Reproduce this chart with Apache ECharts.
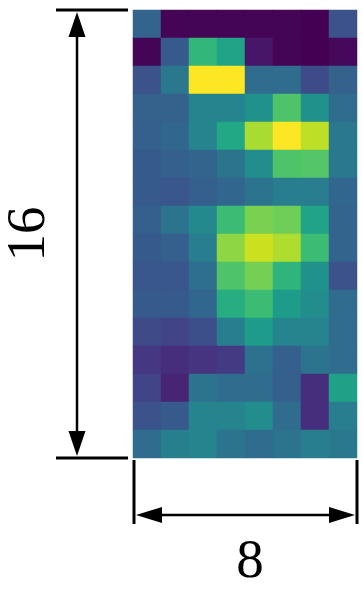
<!DOCTYPE html>
<html>
<head>
<meta charset="utf-8">
<script src="https://cdn.jsdelivr.net/npm/echarts@6/dist/echarts.min.js"></script>
<style>
html,body{margin:0;padding:0;background:#fff;}
#main{width:363px;height:590px;}
</style>
</head>
<body>
<div id="main"></div>
<script>
// 8 columns x 16 rows, values in [0,1], row 0 = top
var columns = ['0','1','2','3','4','5','6','7'];
var rows = ['0','1','2','3','4','5','6','7','8','9','10','11','12','13','14','15'];
var values = [
  [0.32, 0.01, 0.01, 0.01, 0.01, 0.01, 0.00, 0.25],
  [0.01, 0.28, 0.66, 0.58, 0.06, 0.01, 0.00, 0.02],
  [0.25, 0.40, 1.00, 1.00, 0.35, 0.35, 0.23, 0.31],
  [0.31, 0.31, 0.45, 0.45, 0.50, 0.72, 0.50, 0.35],
  [0.30, 0.33, 0.45, 0.60, 0.87, 1.00, 0.90, 0.40],
  [0.28, 0.30, 0.32, 0.38, 0.48, 0.72, 0.73, 0.40],
  [0.28, 0.27, 0.30, 0.33, 0.38, 0.42, 0.42, 0.33],
  [0.30, 0.38, 0.47, 0.68, 0.80, 0.78, 0.58, 0.32],
  [0.28, 0.30, 0.42, 0.83, 0.92, 0.88, 0.68, 0.32],
  [0.27, 0.27, 0.36, 0.72, 0.79, 0.65, 0.50, 0.25],
  [0.28, 0.28, 0.33, 0.62, 0.68, 0.55, 0.48, 0.35],
  [0.22, 0.20, 0.24, 0.42, 0.55, 0.45, 0.45, 0.35],
  [0.16, 0.13, 0.15, 0.17, 0.37, 0.30, 0.38, 0.35],
  [0.20, 0.10, 0.38, 0.35, 0.35, 0.30, 0.13, 0.57],
  [0.25, 0.28, 0.45, 0.45, 0.48, 0.35, 0.13, 0.42],
  [0.35, 0.43, 0.45, 0.38, 0.35, 0.38, 0.42, 0.40]
];
var widthLabel = '8';
var heightLabel = '16';

var viridis = ['#440154','#471365','#482475','#463480','#414487','#3b528b','#355f8d','#2f6c8e','#2a788e','#25848e','#21918c','#1e9c89','#22a884','#2fb47c','#44bf70','#5ec962','#7ad151','#9bd93c','#bddf26','#dfe318','#fde725'];

var data = [];
for (var r = 0; r < rows.length; r++) {
  for (var c = 0; c < columns.length; c++) {
    data.push([c, r, values[r][c]]);
  }
}

var G = {left: 133, top: 10, width: 224, height: 448};
var gL = G.left, gT = G.top, gR = G.left + G.width, gB = G.top + G.height;
var vx = 77;      // vertical dimension line x
var hy = 515;     // horizontal dimension line y
var lineStyle = {stroke: '#000', lineWidth: 3};
var shaftStyle = {stroke: '#000', lineWidth: 2.5};
var labelStyle = {fontFamily: 'Liberation Serif', fontSize: 55, fill: '#000', align: 'center', verticalAlign: 'middle'};

var graphics = [
  // vertical dimension
  {type: 'line', shape: {x1: 56, y1: gT, x2: 128, y2: gT}, style: lineStyle},
  {type: 'line', shape: {x1: 56, y1: gB, x2: 128, y2: gB}, style: lineStyle},
  {type: 'line', shape: {x1: vx, y1: gT + 20, x2: vx, y2: gB - 20}, style: shaftStyle},
  {type: 'polygon', shape: {points: [[vx, gT + 2], [vx - 8.5, gT + 27], [vx + 8.5, gT + 27]]}, style: {fill: '#000'}},
  {type: 'polygon', shape: {points: [[vx, gB - 2], [vx - 8.5, gB - 27], [vx + 8.5, gB - 27]]}, style: {fill: '#000'}},
  // horizontal dimension
  {type: 'line', shape: {x1: gL + 1, y1: gB + 2, x2: gL + 1, y2: 524}, style: lineStyle},
  {type: 'line', shape: {x1: gR, y1: gB + 2, x2: gR, y2: 524}, style: lineStyle},
  {type: 'line', shape: {x1: gL + 20, y1: hy, x2: gR - 20, y2: hy}, style: shaftStyle},
  {type: 'polygon', shape: {points: [[gL + 3, hy], [gL + 29, hy - 8], [gL + 29, hy + 8]]}, style: {fill: '#000'}},
  {type: 'polygon', shape: {points: [[gR - 2, hy], [gR - 28, hy - 8], [gR - 28, hy + 8]]}, style: {fill: '#000'}},
  // labels
  {type: 'text', x: 250, y: 563, style: Object.assign({text: widthLabel}, labelStyle)},
  {type: 'text', x: 30, y: 234, rotation: Math.PI / 2, style: Object.assign({text: heightLabel}, labelStyle)}
];

var chart = echarts.init(document.getElementById('main'), null, {renderer: 'canvas'});
chart.setOption({
  animation: false,
  backgroundColor: '#fff',
  grid: {left: G.left, top: G.top, width: G.width, height: G.height},
  xAxis: {type: 'category', data: columns, show: false},
  yAxis: {type: 'category', data: rows, inverse: true, show: false},
  visualMap: {show: false, min: 0, max: 1, calculable: false, inRange: {color: viridis}},
  series: [{
    type: 'heatmap',
    data: data,
    itemStyle: {borderWidth: 0},
    emphasis: {disabled: true}
  }],
  graphic: graphics
});
</script>
</body>
</html>
